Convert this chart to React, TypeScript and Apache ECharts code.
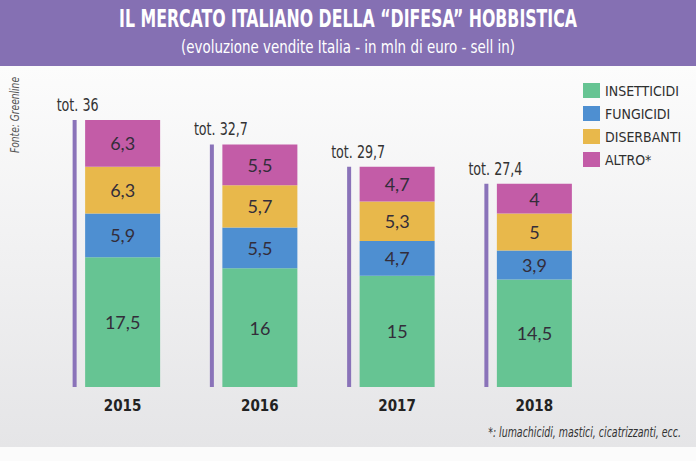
import React, { useEffect, useRef } from "react";
import * as echarts from "echarts";

const years = ["2015", "2016", "2017", "2018"];
const insetticidi = [17.5, 16, 15, 14.5];
const fungicidi = [5.9, 5.5, 4.7, 3.9];
const diserbanti = [6.3, 5.7, 5.3, 5];
const altro = [6.3, 5.5, 4.7, 4];
const totals = [36, 32.7, 29.7, 27.4];
const seriesNames = ["INSETTICIDI", "FUNGICIDI", "DISERBANTI", "ALTRO*"];
const colors = ["#66c493", "#4e8fd1", "#e8b84b", "#c35ca7"];

const COND = '"DejaVu Sans Condensed", "DejaVu Sans", sans-serif';
const NUM = 'Lato, "Open Sans", sans-serif';

const fmt = (v: number) => String(v).replace(".", ",");

export default function App() {
  const ref = useRef<HTMLDivElement>(null);
  useEffect(() => {
    if (!ref.current) return;
    const chart = echarts.init(ref.current, undefined, { renderer: "svg" });
    const values = [insetticidi, fungicidi, diserbanti, altro];
    const barSeries = values.map((arr, i) => ({
      type: "bar",
      name: seriesNames[i],
      stack: "tot",
      barWidth: 75,
      data: arr,
      itemStyle: { color: colors[i] },
      label: {
        show: true,
        position: "inside",
        color: "#332d3a",
        fontFamily: NUM,
        fontSize: 18,
        formatter: (p: any) => fmt(p.value),
      },
    }));
    chart.setOption({
      animation: false,
      backgroundColor: "transparent",
      graphic: [
        {
          type: "rect",
          shape: { x: 0, y: 66, width: 696, height: 381 },
          style: {
            fill: new echarts.graphic.LinearGradient(0, 0, 0, 1, [
              { offset: 0, color: "#fcfcfc" },
              { offset: 1, color: "#e5e5e7" },
            ]),
          },
          z: -10,
        },
        {
          type: "rect",
          shape: { x: 0, y: 0, width: 696, height: 66 },
          style: { fill: "#8570b3" },
          z: -5,
        },
        {
          type: "text",
          x: 348,
          y: 18,
          scaleX: 0.73,
          style: {
            text: "IL MERCATO ITALIANO DELLA “DIFESA” HOBBISTICA",
            fill: "#ffffff",
            font: `bold 24px ${COND}`,
            align: "center",
            verticalAlign: "middle",
          },
        },
        {
          type: "text",
          x: 348,
          y: 47,
          scaleX: 0.83,
          style: {
            text: "(evoluzione vendite Italia - in mln di euro - sell in)",
            fill: "#ffffff",
            font: `18px ${COND}`,
            align: "center",
            verticalAlign: "middle",
          },
        },
        {
          type: "text",
          x: 15,
          y: 115,
          rotation: Math.PI / 2,
          scaleX: 0.78,
          style: {
            text: "Fonte: Greenline",
            fill: "#555",
            font: `italic 13px ${COND}`,
            align: "center",
            verticalAlign: "middle",
          },
        },
        {
          type: "text",
          x: 681,
          y: 432,
          scaleX: 0.75,
          style: {
            text: "*: lumachicidi, mastici, cicatrizzanti, ecc.",
            fill: "#333",
            font: `italic 14px ${COND}`,
            align: "right",
            verticalAlign: "middle",
          },
        },
      ],
      legend: {
        orient: "vertical",
        left: 578,
        top: 78,
        itemWidth: 17,
        itemHeight: 15,
        itemGap: 8,
        icon: "rect",
        data: seriesNames,
        textStyle: { fontFamily: COND, fontSize: 14, color: "#2f2f2f" },
        selectedMode: false,
      },
      grid: { left: 54, width: 549, top: 120, height: 267 },
      xAxis: {
        type: "category",
        data: years,
        axisLine: { show: false },
        axisTick: { show: false },
        axisLabel: {
          margin: 11,
          fontFamily: COND,
          fontWeight: "bold",
          fontSize: 15,
          color: "#222",
        },
      },
      yAxis: {
        type: "value",
        min: 0,
        max: 36,
        show: false,
        splitLine: { show: false },
      },
      series: [
        ...barSeries,
        {
          type: "custom",
          name: "tot",
          data: totals.map((t, i) => [i, t]),
          z: 5,
          renderItem: (params: any, api: any) => {
            const idx = api.value(0);
            const top = api.coord([idx, api.value(1)]);
            const bottom = api.coord([idx, 0]);
            const x = top[0] - 48;
            return {
              type: "group",
              children: [
                {
                  type: "rect",
                  shape: { x: x - 2, y: top[1], width: 4, height: bottom[1] - top[1] },
                  style: { fill: "#8a73b9" },
                },
                {
                  type: "text",
                  x: x - 18,
                  y: top[1] - 6,
                  scaleX: 0.83,
                  style: {
                    text: "tot. " + fmt(api.value(1)),
                    fill: "#333",
                    font: `17px ${COND}`,
                    align: "left",
                    verticalAlign: "bottom",
                  },
                },
              ],
            };
          },
        },
      ],
    });
    return () => chart.dispose();
  }, []);
  return (
    <div
      ref={ref}
      style={{ position: "fixed", left: 0, top: 0, width: 696, height: 461, background: "#fbfbfb" }}
    />
  );
}
